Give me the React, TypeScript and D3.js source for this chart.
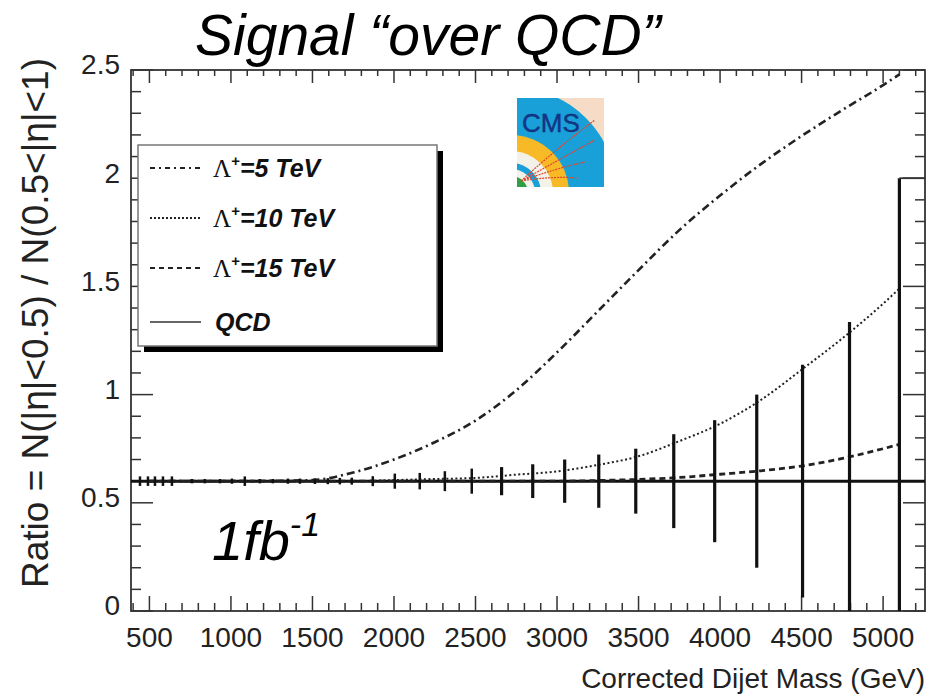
import React from 'react';
import * as d3 from 'd3';

// Dijet mass bin centres (GeV) and the measured centre-to-outer ratio
const massBins = [442, 491, 534, 583, 638, 761, 840, 932, 1006, 1085, 1177, 1257, 1349, 1423, 1515, 1594, 1668, 1741, 1870, 2005, 2158, 2312, 2477, 2660, 2851, 3047, 3256, 3483, 3716, 3967, 4225, 4506, 4794, 5100];
const qcdRatio = [0.6, 0.6, 0.6, 0.6, 0.6, 0.6, 0.6, 0.6, 0.6, 0.6, 0.6, 0.6, 0.6, 0.6, 0.6, 0.6, 0.6, 0.6, 0.6, 0.6, 0.6, 0.6, 0.6, 0.6, 0.6, 0.6, 0.6, 0.6, 0.6, 0.6, 0.6, 0.6, 0.6, 0.6];
const statErr = [0.022, 0.022, 0.022, 0.022, 0.022, 0.01, 0.01, 0.01, 0.012, 0.022, 0.01, 0.01, 0.012, 0.012, 0.013, 0.014, 0.015, 0.016, 0.023, 0.035, 0.038, 0.046, 0.058, 0.065, 0.078, 0.1, 0.123, 0.15, 0.217, 0.282, 0.4, 0.538, 0.735, 1.4];

// Contact-interaction signal predictions
const curveMass = [500, 1000, 1500, 1750, 2000, 2250, 2500, 2750, 3000, 3250, 3500, 3750, 4000, 4250, 4500, 4750, 5000, 5100];
const lambda5 = [0.6, 0.6, 0.605, 0.64, 0.7, 0.78, 0.88, 1.02, 1.195, 1.385, 1.575, 1.76, 1.92, 2.065, 2.195, 2.315, 2.43, 2.48];
const lambda10 = [0.6, 0.6, 0.6, 0.6, 0.605, 0.61, 0.615, 0.63, 0.645, 0.675, 0.715, 0.785, 0.865, 0.975, 1.115, 1.26, 1.42, 1.49];
const lambda15 = [0.6, 0.6, 0.6, 0.6, 0.6, 0.6, 0.6, 0.6, 0.6, 0.603, 0.608, 0.617, 0.632, 0.648, 0.67, 0.705, 0.75, 0.77];
const qcdLevel = 0.6;

const xTicks = [500, 1000, 1500, 2000, 2500, 3000, 3500, 4000, 4500, 5000];
const yTicks = [0, 0.5, 1, 1.5, 2, 2.5];
const yTickLabels = ['0', '0.5', '1', '1.5', '2', '2.5'];

const legendLabels = ['=5 TeV', '=10 TeV', '=15 TeV', 'QCD'];

const W = 929;
const H = 696;
const frame = { left: 131, right: 925, top: 70, bottom: 611 };
const SANS = '"Liberation Sans", Arial, Helvetica, sans-serif';

export default function App() {
  const x = d3.scaleLinear().domain([387, 5257]).range([frame.left, frame.right]);
  const y = d3.scaleLinear().domain([0, 2.5]).range([frame.bottom, frame.top]);

  const line = d3
    .line<[number, number]>()
    .x((d) => x(d[0]))
    .y((d) => y(d[1]))
    .curve(d3.curveMonotoneX);

  const pts = (vals: number[]) => curveMass.map((m, i) => [m, vals[i]] as [number, number]);

  const xMinor = d3.range(400, 5300, 100).filter((v) => v % 500 !== 0);
  const yMinor = d3.range(0, 2.5001, 0.1).map((v) => Math.round(v * 10) / 10).filter((v) => Math.round(v * 10) % 5 !== 0);

  const seriesStyles = [
    { vals: lambda5, dash: '8 4 2 4', width: 2.6 },
    { vals: lambda10, dash: '2 2.5', width: 2 },
    { vals: lambda15, dash: '6 4', width: 2.8 },
  ];

  // Legend geometry
  const lg = { x: 138, y: 145, w: 299, h: 201 };
  const rows = [168, 218, 268, 322];
  const legendDash = ['5 4 2 4', '2 2', '5 4', ''];

  // CMS badge geometry
  const logo = { x: 517, y: 98, w: 87, h: 89 };
  const cx = logo.x - 6;
  const cy = logo.y + logo.h + 6;

  return (
    <svg width={W} height={H} style={{ position: 'absolute', left: 0, top: 0, background: '#fff' }}>
      <defs>
        <clipPath id="plotArea">
          <rect x={frame.left} y={frame.top} width={frame.right - frame.left} height={frame.bottom - frame.top} />
        </clipPath>
        <clipPath id="logoClip">
          <rect x={logo.x} y={logo.y} width={logo.w} height={logo.h} />
        </clipPath>
      </defs>

      {/* Title */}
      <text x={195} y={55} fontFamily={SANS} fontStyle="italic" fontSize={57} fill="#000">
        Signal “over QCD”
      </text>

      {/* Axis ticks drawn inside the frame on all four sides */}
      <g stroke="#333" strokeWidth={1.5}>
        {xTicks.map((v) => (
          <g key={'xt' + v}>
            <line x1={x(v)} x2={x(v)} y1={frame.bottom} y2={frame.bottom - 15} />
            <line x1={x(v)} x2={x(v)} y1={frame.top} y2={frame.top + 13} />
          </g>
        ))}
        {xMinor.map((v) => (
          <g key={'xm' + v}>
            <line x1={x(v)} x2={x(v)} y1={frame.bottom} y2={frame.bottom - 8} />
            <line x1={x(v)} x2={x(v)} y1={frame.top} y2={frame.top + 6} />
          </g>
        ))}
        {yTicks.map((v) => (
          <g key={'yt' + v}>
            <line x1={frame.left} x2={frame.left + 22} y1={y(v)} y2={y(v)} />
            <line x1={frame.right} x2={frame.right - 22} y1={y(v)} y2={y(v)} />
          </g>
        ))}
        {yMinor.map((v) => (
          <g key={'ym' + v}>
            <line x1={frame.left} x2={frame.left + 10} y1={y(v)} y2={y(v)} />
            <line x1={frame.right} x2={frame.right - 10} y1={y(v)} y2={y(v)} />
          </g>
        ))}
      </g>

      {/* Frame */}
      <rect
        x={frame.left}
        y={frame.top}
        width={frame.right - frame.left}
        height={frame.bottom - frame.top}
        fill="none"
        stroke="#333"
        strokeWidth={1.8}
      />

      {/* Tick labels */}
      <g fontFamily={SANS} fontSize={28} fill="#222">
        {xTicks.map((v) => (
          <text key={'xl' + v} x={x(v)} y={frame.bottom + 36} textAnchor="middle">
            {v}
          </text>
        ))}
        {yTicks.map((v, i) => (
          <text key={'yl' + v} x={120} y={y(v) - 3} textAnchor="end" dominantBaseline="middle">
            {yTickLabels[i]}
          </text>
        ))}
      </g>

      {/* Axis titles */}
      <text x={925} y={688} textAnchor="end" fontFamily={SANS} fontSize={28} fill="#222">
        Corrected Dijet Mass (GeV)
      </text>
      <text
        transform={`translate(48, 323) rotate(-90)`}
        textAnchor="middle"
        fontFamily={SANS}
        fontSize={37}
        fill="#222"
      >
        Ratio = N(|η|&lt;0.5) / N(0.5&lt;|η|&lt;1)
      </text>

      <g clipPath="url(#plotArea)">
        {/* QCD expectation */}
        <line x1={frame.left} x2={frame.right} y1={y(qcdLevel)} y2={y(qcdLevel)} stroke="#111" strokeWidth={3} />

        {/* Signal curves */}
        {seriesStyles.map((s, i) => (
          <path
            key={'sig' + i}
            d={line(pts(s.vals)) || ''}
            fill="none"
            stroke="#222"
            strokeWidth={s.width}
            strokeDasharray={s.dash}
          />
        ))}

        {/* Statistical error bars */}
        {massBins.map((m, i) => (
          <line
            key={'eb' + m}
            x1={x(m)}
            x2={x(m)}
            y1={y(Math.max(0, qcdRatio[i] - statErr[i]))}
            y2={y(qcdRatio[i] + statErr[i])}
            stroke="#111"
            strokeWidth={i < 23 ? 2.5 : 3.2}
          />
        ))}
        {/* Upper edge of the last bin */}
        <line
          x1={x(massBins[massBins.length - 1])}
          x2={frame.right}
          y1={y(qcdRatio[qcdRatio.length - 1] + statErr[statErr.length - 1])}
          y2={y(qcdRatio[qcdRatio.length - 1] + statErr[statErr.length - 1])}
          stroke="#333"
          strokeWidth={1.8}
        />
      </g>

      {/* Legend with drop shadow */}
      <rect x={lg.x + 6} y={lg.y + 6} width={lg.w} height={lg.h} fill="#000" />
      <rect x={lg.x} y={lg.y} width={lg.w} height={lg.h} fill="#fff" stroke="#777" strokeWidth={1.5} />
      {rows.map((ry, i) => (
        <g key={'lg' + i}>
          <line
            x1={150}
            x2={201}
            y1={ry}
            y2={ry}
            stroke={i === 3 ? '#666' : '#222'}
            strokeWidth={i === 3 ? 1.8 : 2.2}
            strokeDasharray={legendDash[i]}
          />
          {i < 3 ? (
            <text x={213} y={ry + 9} fontSize={25} fill="#111">
              <tspan fontFamily='"Liberation Serif", "Times New Roman", serif'>Λ</tspan>
              <tspan fontFamily={SANS} fontWeight="bold" fontSize={15} dy={-11}>
                +
              </tspan>
              <tspan fontFamily={SANS} fontWeight="bold" fontStyle="italic" dy={11}>
                {legendLabels[i]}
              </tspan>
            </text>
          ) : (
            <text x={215} y={ry + 9} fontSize={25} fontFamily={SANS} fontWeight="bold" fontStyle="italic" fill="#111">
              {legendLabels[i]}
            </text>
          )}
        </g>
      ))}

      {/* Luminosity label */}
      <text x={212} y={560} fontFamily={SANS} fontStyle="italic" fontSize={56} fill="#000">
        1fb
        <tspan fontSize={34} dy={-24}>
          -1
        </tspan>
      </text>

      {/* CMS badge */}
      <g clipPath="url(#logoClip)">
        <rect x={logo.x} y={logo.y} width={logo.w} height={logo.h} fill="#f6dcc6" />
        <circle cx={cx} cy={cy} r={106} fill="#1aa0d8" />
        <circle cx={cx} cy={cy} r={58} fill="#f7b926" />
        <circle cx={cx} cy={cy} r={42} fill="#f4f1e8" />
        <circle cx={cx} cy={cy} r={30} fill="#1aa0d8" />
        <circle cx={cx} cy={cy} r={24} fill="#f4f1e8" />
        <circle cx={cx} cy={cy} r={17} fill="#2f9e44" />
        <g stroke="#e0452a" strokeWidth={1.2} fill="none" strokeDasharray="2 1">
          <path d={`M${logo.x + 4},${logo.y + logo.h - 6} Q${logo.x + 40},${logo.y + 50} ${logo.x + 78},${logo.y + 22}`} />
          <path d={`M${logo.x + 4},${logo.y + logo.h - 6} Q${logo.x + 45},${logo.y + 60} ${logo.x + 78},${logo.y + 42}`} />
          <path d={`M${logo.x + 4},${logo.y + logo.h - 6} Q${logo.x + 40},${logo.y + 70} ${logo.x + 68},${logo.y + 64}`} />
          <path d={`M${logo.x + 4},${logo.y + logo.h - 6} Q${logo.x + 35},${logo.y + 78} ${logo.x + 60},${logo.y + 80}`} />
        </g>
        <text x={logo.x + 5} y={logo.y + 34} fontFamily={SANS} fontSize={26} fill="#17378a" stroke="#0b2a70" strokeWidth={0.4}>
          CMS
        </text>
      </g>
    </svg>
  );
}
